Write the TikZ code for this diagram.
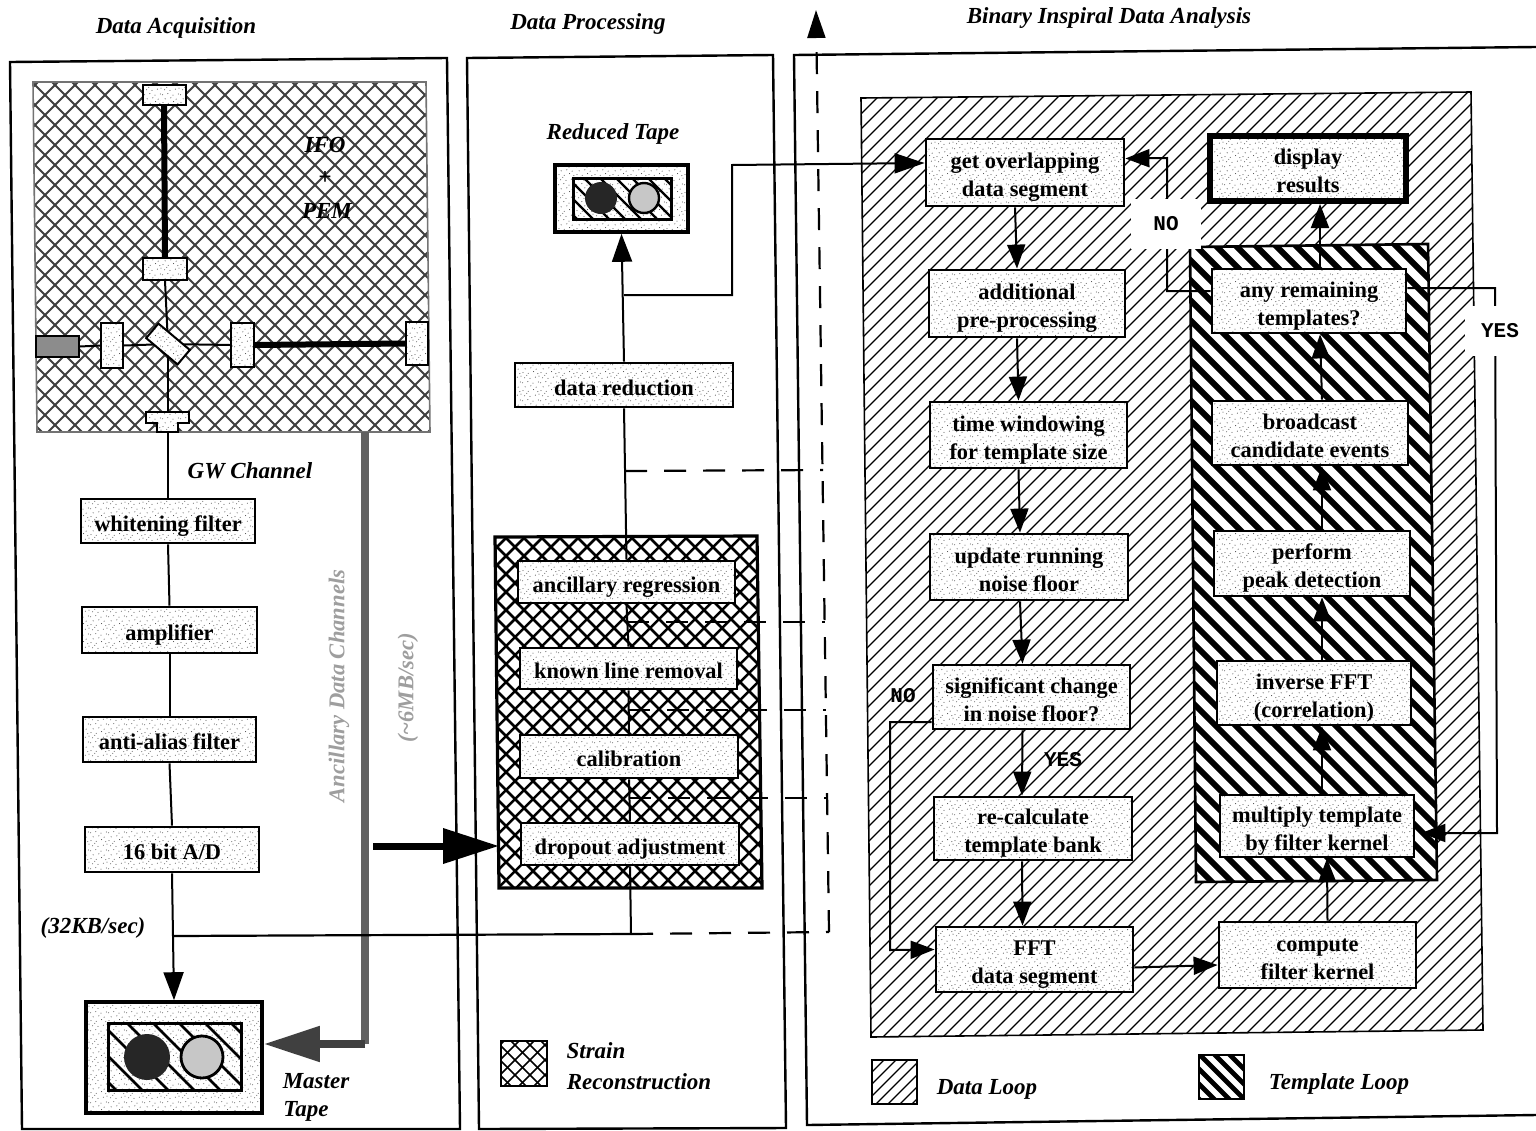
\documentclass[tikz,border=0pt]{standalone}
\usepackage{fontspec}
\setmainfont{Liberation Serif}
\newfontfamily\monob{Liberation Mono}[BoldFont={Liberation Mono Bold}]
\usetikzlibrary{arrows.meta,patterns}
\pgfdeclarepatternformonly{stip}{\pgfqpoint{-1pt}{-1pt}}{\pgfqpoint{10pt}{10pt}}{\pgfqpoint{9pt}{9pt}}{%
  \foreach \px/\py in {0.5/0.7,3.1/0.3,5.8/1.2,7.9/0.2,1.6/2.6,4.4/3.1,7.1/2.4,0.3/4.6,2.9/5.2,5.5/4.4,8.2/5.0,1.3/7.1,4.0/6.8,6.7/7.4,8.5/7.9,2.4/8.3}{%
    \pgfpathcircle{\pgfqpoint{\px pt}{\py pt}}{0.27pt}}%
  \pgfusepath{fill}}
\newcommand\hatchup[3]{\begin{scope}\clip #1;\foreach \hh in {0,#2,...,2800}{\draw[#3] (\hh,0)--(\hh-1130,1130);}\end{scope}}
\newcommand\hatchdn[3]{\begin{scope}\clip #1;\foreach \hh in {0,#2,...,2800}{\draw[#3] (\hh-1130,0)--(\hh,1130);}\end{scope}}
\tikzset{
  stipple/.style={preaction={fill=white},pattern=stip,pattern color=black!70},
  lbl/.style={font=\bfseries\fontsize{11.2}{14}\selectfont,align=center,inner sep=0pt,execute at begin node={\rule[-3pt]{0pt}{16pt}}},
  tbox/.style={draw,line width=1.4pt,stipple,lbl},
  twobox/.style={tbox,execute at begin node={\rule[-3pt]{0pt}{30pt}}},
  thickbox/.style={twobox,line width=3pt},
  mirror/.style={draw,line width=1pt,stipple,inner sep=0pt},
  panel/.style={draw,line width=1.2pt},
  hd/.style={font=\bfseries\itshape\fontsize{11.5}{14}\selectfont,align=center,inner sep=0pt},
  faint/.style={font=\bfseries\itshape\fontsize{11.3}{14}\selectfont,text=black!38,rotate=90,inner sep=0pt},
  mono/.style={font=\monob\bfseries\fontsize{10.5}{12}\selectfont,inner sep=0pt},
  wire/.style={line width=1pt},
  arr/.style={wire,-{Triangle[length=12pt,width=9pt]}},
  bigarr/.style={line width=4pt,black!75,-{Triangle[length=28pt,width=17pt]}},
  dashline/.style={line width=1.1pt,dash pattern=on 11pt off 8.5pt},
  ifohatch/.style={line width=0.9pt,black!75},
  strainhatch/.style={line width=1.25pt,black},
  datahatch/.style={line width=0.65pt,black},
  tmplhatch/.style={line width=3pt,black},
  tapehatch/.style={line width=1.4pt,black},
  tapeedge/.style={draw,line width=1.5pt},
}
\begin{document}
\begin{tikzpicture}[x=0.5pt,y=-0.5pt]
\useasboundingbox (0,0) rectangle (1536,1130);
\fill[white] (0,0) rectangle (1536,1130);
% panels
\draw[panel] (10,62)--(447,58)--(460,1129)--(22,1129)--cycle;
\draw[panel] (467,58)--(773,55)--(786,1128)--(479,1129)--cycle;
\draw[panel] (1536,47)--(794,55)--(807,1125)--(1536,1115);
% hatched regions
\hatchup{(33,82)--(426,82)--(430,432)--(37,432)--cycle}{20}{ifohatch}
\hatchdn{(33,82)--(426,82)--(430,432)--(37,432)--cycle}{20}{ifohatch}
\draw[line width=0.8pt,black!55] (33,82)--(426,82)--(430,432)--(37,432)--cycle;
\hatchup{(495,537)--(757,536)--(762,888)--(499,888)--cycle}{18}{strainhatch}
\hatchdn{(495,537)--(757,536)--(762,888)--(499,888)--cycle}{18}{strainhatch}
\draw[line width=1.6pt] (495,537)--(757,536)--(762,888)--(499,888)--cycle;
\hatchup{(861,98)--(1471,92)--(1483,1030)--(871,1037)--cycle}{15}{datahatch}
\draw[line width=0.8pt] (861,98)--(1471,92)--(1483,1030)--(871,1037)--cycle;
\fill[white] (1190,247)--(1428,244)--(1437,880)--(1196,882)--cycle;
\hatchdn{(1190,247)--(1428,244)--(1437,880)--(1196,882)--cycle}{20}{tmplhatch}
\draw[line width=1.3pt] (1190,247)--(1428,244)--(1437,880)--(1196,882)--cycle;
% legend icons
\hatchup{(501,1041)--(547,1041)--(547,1086)--(501,1086)--cycle}{15}{strainhatch,line width=0.8pt}
\hatchdn{(501,1041)--(547,1041)--(547,1086)--(501,1086)--cycle}{15}{strainhatch,line width=0.8pt}
\draw[line width=1.2pt] (501,1041) rectangle (547,1086);
\hatchup{(872,1060)--(917,1060)--(917,1104)--(872,1104)--cycle}{12}{datahatch}
\draw[line width=0.8pt] (872,1060) rectangle (917,1104);
\hatchdn{(1199,1055)--(1244,1055)--(1244,1099)--(1199,1099)--cycle}{15}{tmplhatch,line width=2.4pt}
\draw[line width=1.3pt] (1199,1055) rectangle (1244,1099);
% interferometer
\node[mirror,minimum width=21.5pt,minimum height=10pt] (m1) at (164,95) {};
\node[mirror,minimum width=22pt,minimum height=11pt] (m2) at (165,269) {};
\node[mirror,minimum width=21.5pt,minimum height=10.5pt,fill=black!45] (laser) at (57.5,346.5) {};
\node[mirror,minimum width=11pt,minimum height=22.5pt] (m3) at (112,345.5) {};
\node[mirror,minimum width=11.5pt,minimum height=22pt] (m4) at (242.5,345) {};
\node[mirror,minimum width=11pt,minimum height=21.5pt] (m5) at (417,343.5) {};
\path[draw,line width=1pt,stipple] (146,412)--(189,412)--(189,423)--(178,423)--(178,432)--(157,432)--(157,423)--(146,423)--cycle;
\coordinate (pd) at (168,432);
\coordinate (pdtop) at (168,412);
\coordinate (bsc) at (168,344);
\draw[line width=3pt] (m1.south) -- (m2.north);
\draw[line width=3pt] (m4.east) -- (m5.west);
\draw[wire] (m2.south) -- (bsc);
\draw[wire] (bsc) -- (pdtop);
\draw[wire] (laser.east) -- (m3.west);
\draw[wire] (m3.east) -- (bsc);
\draw[wire] (bsc) -- (m4.west);
\node[mirror,minimum width=20.5pt,minimum height=9.5pt,rotate=-40] (bs) at (bsc) {};
\node[hd] (ifo) at (325,145) {IFO};
\node[hd] (plus) at (325,178) {+};
\node[hd] (pem) at (327,211) {PEM};
% left column
\node[tbox,minimum width=87pt,minimum height=22pt] (white) at (168,521) {whitening filter};
\node[tbox,minimum width=87.5pt,minimum height=23pt] (ampl) at (169.5,630) {amplifier};
\node[tbox,minimum width=86.5pt,minimum height=22.5pt] (anti) at (169.5,739.5) {anti-alias filter};
\node[tbox,minimum width=87pt,minimum height=22.5pt] (adc) at (172,849.5) {16 bit A/D};
\node[draw,line width=1.8pt,stipple,minimum width=88pt,minimum height=55.5pt] (mtape) at (174,1057.5) {};
\hatchdn{(108,1023)--(241,1023)--(241,1090)--(108,1090)--cycle}{26}{tapehatch}
\draw[tapeedge] (108,1023) rectangle (241,1090);
\fill[black!85] (147,1057) circle (11.5pt);
\draw[line width=1.4pt,fill=black!22] (202,1057) circle (10.5pt);
\draw[wire] (pd) -- (white.north);
\draw[wire] (white.south) -- (ampl.north);
\draw[wire] (ampl.south) -- (anti.north);
\draw[wire] (anti.south) -- (adc.north);
\coordinate (adcout) at (173,936);
\draw[arr,-{Triangle[length=14pt,width=10pt]}] (adc.south) -- (adcout) -- (mtape.north);
% middle column
\node[draw,line width=1.8pt,stipple,minimum width=66.5pt,minimum height=33.5pt] (rtape) at (621.5,198.5) {};
\hatchdn{(573,178)--(671,178)--(671,219)--(573,219)--cycle}{16}{tapehatch,line width=1.2pt}
\draw[tapeedge] (573,178) rectangle (671,219);
\fill[black!85] (601,198) circle (8pt);
\draw[line width=1.2pt,fill=black!22] (644,198) circle (7.5pt);
\node[tbox,minimum width=109pt,minimum height=22pt] (redux) at (624,385) {data reduction};
\node[tbox,minimum width=108.5pt,minimum height=21pt] (ancreg) at (626.5,582) {ancillary regression};
\node[tbox,minimum width=108.5pt,minimum height=20.5pt] (lines) at (628.5,668.5) {known line removal};
\node[tbox,minimum width=109pt,minimum height=21.5pt] (calib) at (629,756.5) {calibration};
\node[tbox,minimum width=109pt,minimum height=21pt] (drop) at (630,844) {dropout adjustment};
\draw[wire] (ancreg.north) -- (redux.south);
\draw[wire] (lines.north) -- (ancreg.south);
\draw[wire] (calib.north) -- (lines.south);
\draw[wire] (drop.north) -- (calib.south);
\draw[arr,-{Triangle[length=14pt,width=10pt]}] (redux.north) -- (rtape.south);
% right column: data loop
\node[twobox,minimum width=99pt,minimum height=33.5pt] (get) at (1025,172.5) {get overlapping\\data segment};
\node[twobox,minimum width=98pt,minimum height=33.5pt] (addl) at (1027,303.5) {additional\\pre-processing};
\node[twobox,minimum width=98.5pt,minimum height=33pt] (timew) at (1028.5,435) {time windowing\\for template size};
\node[twobox,minimum width=99pt,minimum height=33pt] (noise) at (1029,567) {update running\\noise floor};
\node[twobox,minimum width=98.5pt,minimum height=32pt] (signif) at (1031.5,697) {significant change\\in noise floor?};
\node[twobox,minimum width=99pt,minimum height=31.5pt] (recalc) at (1033,828.5) {re-calculate\\template bank};
\node[twobox,minimum width=98.5pt,minimum height=32.5pt] (fft) at (1034.5,959.5) {FFT\\data segment};
% right column: template loop
\node[twobox,minimum width=98.5pt,minimum height=33pt] (kern) at (1317.5,955) {compute\\filter kernel};
\node[twobox,minimum width=97pt,minimum height=31pt] (mult) at (1317,826) {multiply template\\by filter kernel};
\node[twobox,minimum width=97pt,minimum height=32pt] (ifft) at (1314,693) {inverse FFT\\(correlation)};
\node[twobox,minimum width=98pt,minimum height=32.5pt] (peak) at (1312,563.5) {perform\\peak detection};
\node[twobox,minimum width=98pt,minimum height=32pt] (cand) at (1310,433) {broadcast\\candidate events};
\node[twobox,minimum width=97pt,minimum height=32pt] (any) at (1309,301) {any remaining\\templates?};
\node[thickbox,minimum width=98pt,minimum height=32.5pt] (disp) at (1308,168.5) {display\\results};
% data-loop connectors
\draw[arr] ([xshift=-5pt]get.south) -- ([xshift=-5pt]addl.north);
\draw[arr] ([xshift=-5pt]addl.south) -- ([xshift=-5pt]timew.north);
\draw[arr] ([xshift=-5pt]timew.south) -- ([xshift=-4.5pt]noise.north);
\draw[arr] ([xshift=-4.5pt]noise.south) -- ([xshift=-4.5pt]signif.north);
\draw[arr] ([xshift=-4.5pt]signif.south) -- ([xshift=-5.5pt]recalc.north);
\draw[arr] ([xshift=-5.5pt]recalc.south) -- ([xshift=-6pt]fft.north);
\draw[arr] ([yshift=-4pt]fft.east) -- ([yshift=-5pt]kern.west);
\coordinate (s1) at (890,722);
\coordinate (s2) at (890,950);
\draw[arr] ([yshift=-12.5pt]signif.west) -- (s1) -- (s2) -- ([yshift=5pt]fft.west);
% template-loop connectors
\draw[arr] ([xshift=5pt]kern.north) -- ([xshift=5pt]mult.south);
\draw[arr] ([xshift=2.5pt]mult.north) -- ([xshift=4pt]ifft.south);
\draw[arr] ([xshift=4pt]ifft.north) -- ([xshift=5pt]peak.south);
\draw[arr] ([xshift=5pt]peak.north) -- ([xshift=6pt]cand.south);
\draw[arr] ([xshift=6pt]cand.north) -- ([xshift=5.5pt]any.south);
\draw[arr] ([xshift=5.5pt]any.north) -- ([xshift=6pt]disp.south);
\coordinate (n1) at (1167,291);
\coordinate (n2) at (1167,158);
\draw[arr] ([yshift=5pt]any.west) -- (n1) -- (n2) -- ([yshift=7pt]get.east);
\coordinate (y1) at (1495,288);
\coordinate (y2) at (1497,833);
\draw[arr] ([yshift=6.5pt]any.east) -- (y1) -- (y2) -- ([xshift=3pt,yshift=-3.5pt]mult.east);
\node[mono,fill=white,minimum width=35pt,minimum height=25pt] (nolab) at (1166,224) {NO};
\node[mono,fill=white,minimum width=35pt,minimum height=25pt] (yeslab) at (1500,331) {YES};
\node[mono] (no2) at (903,696) {NO};
\node[mono] (yes2) at (1063,760) {YES};
% reduced tape to analysis
\coordinate (rb) at (624,295);
\coordinate (rc) at (732,295);
\coordinate (rd) at (732,165);
\draw[arr,-{Triangle[length=15pt,width=10pt]}] (rb) -- (rc) -- (rd) -- ([yshift=4.75pt]get.west);
% ancillary channels
\coordinate (ac1) at (365,432);
\coordinate (ac2) at (365,1044);
\draw[line width=4pt,black!62] (ac1) -- (ac2);
\draw[bigarr] (ac2) -- ([yshift=6.75pt]mtape.east);
\coordinate (ac3) at (373,846);
\coordinate (ss) at (499,846);
\draw[bigarr,black,line width=3.5pt] (ac3) -- (ss);
% raw data line and dashed bus
\coordinate (tee) at (631,934);
\draw[line width=1.1pt] (adcout) -- (tee);
\draw[wire] (drop.south) -- (tee);
\coordinate (bus0) at (829,932);
\coordinate (bustop) at (816,10);
\coordinate (b0) at (625,471);
\coordinate (b1) at (627,622);
\coordinate (b2) at (628,710);
\coordinate (b3) at (629,798);
\coordinate (t0) at (823,470);
\coordinate (t1) at (825,622);
\coordinate (t2) at (826,710);
\coordinate (t3) at (827,798);
\draw[dashline] (tee) -- (bus0);
\draw[dashline,-{Triangle[length=14pt,width=9pt]}] (bus0) -- (bustop);
\draw[dashline] (b0) -- (t0);
\draw[dashline] (b1) -- (t1);
\draw[dashline] (b2) -- (t2);
\draw[dashline] (b3) -- (t3);
% text labels
\node[hd] (h1) at (176,28) {Data Acquisition};
\node[hd] (h2) at (588,24) {Data Processing};
\node[hd] (h3) at (1109,18) {Binary Inspiral Data Analysis};
\node[hd] (gw) at (250,471) {GW Channel};
\node[hd] (rt) at (613,134) {Reduced Tape};
\node[hd] (kb) at (93,928) {(32KB/sec)};
\node[hd] (mt1) at (316,1081) {Master};
\node[hd] (mt2) at (306,1111) {Tape};
\node[faint] (adchan) at (339,686) {Ancillary Data Channels};
\node[faint] (rate) at (408,688) {(\textasciitilde6MB/sec)};
\node[hd] (sr1) at (596,1051) {Strain};
\node[hd] (sr2) at (639,1082) {Reconstruction};
\node[hd] (dl) at (987,1089) {Data Loop};
\node[hd] (tl) at (1339,1084) {Template Loop};
\end{tikzpicture}
\end{document}
